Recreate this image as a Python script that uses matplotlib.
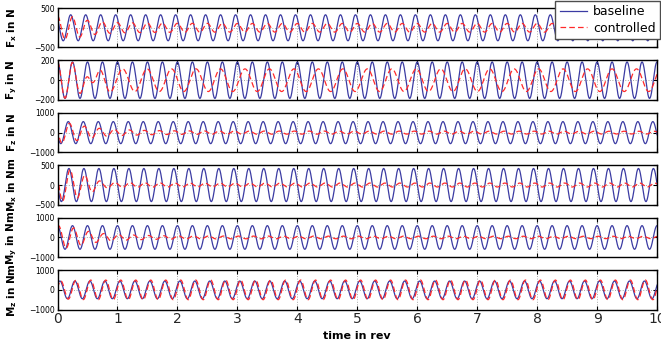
import numpy as np
import matplotlib
matplotlib.use('Agg')
import matplotlib.pyplot as plt

# Werte
kanaele = ['F_x', 'F_y', 'F_z', 'M_x', 'M_y', 'M_z']
einheiten = ['N', 'N', 'N', 'Nm', 'Nm', 'Nm']
ygrenzen = [500, 200, 1000, 500, 1000, 1000]

# baseline: 4/rev Schwingung, Amplitude und Zeitpunkt des ersten Maximums (rev)
basis_amp = [330, 185, 560, 420, 600, 450]
basis_max = [-0.03, 0.0, 0.18, 0.19, 0.0, 0.04]

# controlled: Einhuellende an Stuetzstellen (rev)
t_stuetz = [0, 0.25, 0.5, 0.75, 1, 1.5, 2, 3, 10]
ctrl_amp = [
    [300, 280, 190, 150, 130, 120, 115, 110, 110],
    [185, 180, 150, 125, 115, 115, 115, 115, 115],
    [560, 450, 300, 200, 150, 110, 90, 80, 70],
    [420, 380, 220, 80, 60, 55, 50, 50, 50],
    [600, 500, 320, 200, 150, 100, 80, 70, 60],
    [450, 480, 500, 500, 500, 500, 500, 500, 500],
]
ctrl_verz = [0.03, 0.0, 0.02, 0.02, 0.02, 0.015]

# F_y controlled geht auf ca. 2.45/rev ueber
fy_freq = 2.45
fy_gewicht = [1, 1, 0.6, 0.2, 0, 0, 0, 0, 0]

t = np.linspace(0, 10, 4001)

fig, achsen = plt.subplots(6, 1, figsize=(6.61, 3.51), dpi=100, sharex=True)
fig.subplots_adjust(left=0.087, right=0.994, top=0.977, bottom=0.118, hspace=0.33)

for i, ax in enumerate(achsen):
    basis = basis_amp[i] * np.cos(2 * np.pi * 4 * (t - basis_max[i]))
    env = np.interp(t, t_stuetz, ctrl_amp[i])
    ctrl = env * np.cos(2 * np.pi * 4 * (t - basis_max[i] - ctrl_verz[i]))
    if kanaele[i] == 'F_y':
        w = np.interp(t, t_stuetz, fy_gewicht)
        ctrl = env * (w * np.cos(2 * np.pi * 4 * t) + (1 - w) * np.cos(2 * np.pi * fy_freq * (t - 0.27)))
    l1, = ax.plot(t, basis, color='#3b3ba3', lw=0.9, label='baseline')
    l2, = ax.plot(t, ctrl, color='#ff2a2a', lw=0.9, ls=(0, (4.5, 2.5)), label='controlled')
    g = ygrenzen[i]
    ax.set_ylim(-g, g)
    ax.set_yticks([-g, 0, g])
    ax.set_xlim(0, 10)
    ax.set_xticks(range(11))
    ax.grid(True, ls=':', color='0.65', lw=0.7)
    ax.tick_params(direction='in', top=True, right=True, length=3, width=0.8)
    ax.tick_params(axis='y', labelsize=5.5, pad=2)
    ax.tick_params(axis='x', labelsize=10, pad=2, labelcolor='0.15')
    for s in ax.spines.values():
        s.set_linewidth(1.0)
    ax.set_ylabel(r'$\mathbf{' + kanaele[i] + '}$ in ' + einheiten[i], fontsize=7.5,
                  fontweight='bold', labelpad=4)
    ax.yaxis.set_label_coords(-0.065, 0.5)

achsen[-1].set_xlabel('time in rev', fontsize=8, fontweight='bold', labelpad=3)

fig.legend([l1, l2], ['baseline', 'controlled'], loc='upper right',
           bbox_to_anchor=(1.0, 1.0), fontsize=9, frameon=True, fancybox=False,
           edgecolor='0.3', framealpha=1, borderpad=0.35, labelspacing=0.3,
           handlelength=2.2, handletextpad=0.5, borderaxespad=0.05)

plt.savefig('out.png', dpi=100)
